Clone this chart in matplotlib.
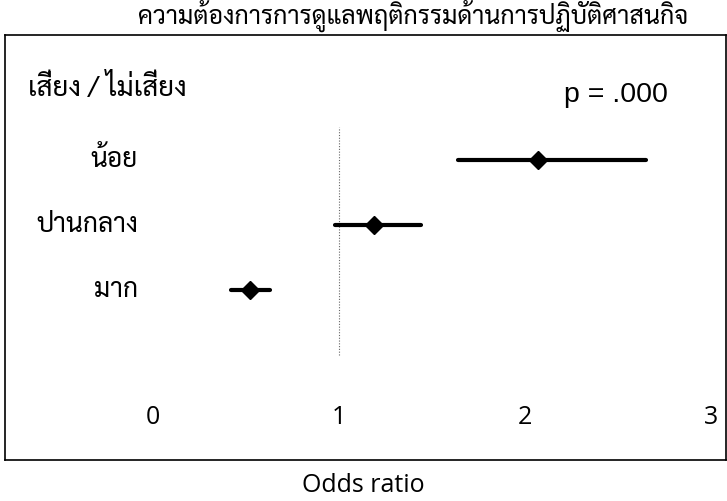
import matplotlib
matplotlib.use("Agg")
import matplotlib.pyplot as plt

# odds ratios with 95% CI
groups = ["น้อย", "ปานกลาง", "มาก"]
odds = [2.07, 1.19, 0.52]
ci_low = [1.64, 0.98, 0.42]
ci_high = [2.65, 1.44, 0.63]
xticks = [0, 1, 2, 3]

title = "ความต้องการการดูแลพฤติกรรมด้านการปฏิบัติศาสนกิจ"
header = "เสี่ยง / ไม่เสี่ยง"
p_text = "p = .000"

thai = ["Sarabun", "Noto Sans Thai Looped", "DejaVu Sans"]
latin = ["Open Sans", "DejaVu Sans"]

fig = plt.figure(figsize=(7.27, 5.01), dpi=100)
ax = fig.add_axes([5 / 727, 41 / 501, 721 / 727, 425 / 501])

ypos = [2, 1, 0]
ax.set_xlim(-0.795, 3.08)
ax.set_ylim(-2.62, 3.92)

# reference line at OR = 1
ax.plot([1, 1], [-1.0, 2.5], color="0.4", lw=0.8, ls=(0, (1, 1.5)), zorder=1)

for y, o, lo, hi in zip(ypos, odds, ci_low, ci_high):
    ax.plot([lo, hi], [y, y], color="black", lw=3, solid_capstyle="round", zorder=2)
    ax.plot(o, y, marker="D", color="black", markersize=9, zorder=3)

for y, g in zip(ypos, groups):
    ax.text(-0.08, y, g, ha="right", va="center", fontsize=19, family=thai)

for t in xticks:
    ax.text(t, -1.97, str(t), ha="center", va="center", fontsize=18, family=latin)

ax.text(-0.672, 3.1, header, ha="left", va="center", fontsize=20, family=thai)
ax.text(2.21, 3.0, p_text, ha="left", va="center", fontsize=20.5,
        family=["Liberation Sans", "DejaVu Sans"])

ax.set_xticks([])
ax.set_yticks([])
for s in ax.spines.values():
    s.set_linewidth(1.2)

fig.text(413 / 727, 1 - 16 / 501, title, ha="center", va="center", fontsize=18,
         family=thai)
fig.text(0.5, 1 - 486 / 501, "Odds ratio", ha="center", va="center", fontsize=18, family=latin)

fig.savefig("out.png", dpi=100)
